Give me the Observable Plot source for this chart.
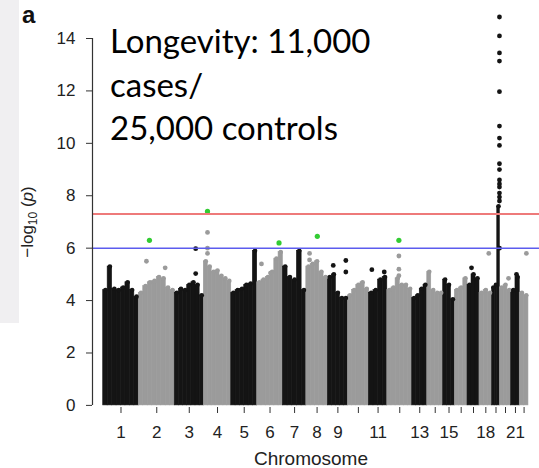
<!DOCTYPE html>
<html><head><meta charset="utf-8">
<script src="https://cdn.jsdelivr.net/npm/d3@7"></script>
<script src="https://cdn.jsdelivr.net/npm/@observablehq/plot@0.6"></script>
<style>
body{margin:0;background:#fff;}
#chart{position:relative;width:539px;height:468px;}
</style>
</head><body><div id="chart"></div>
<script>
// ---- data ----
const chromosomes = ["1","2","3","4","5","6","7","8","9","10","11","12","13","14","15","16","17","18","19","20","21","22"];
// span of each chromosome on the genome axis (Mb)
const chrSpanMb = [241,244,197,186,176,174,159,146,136,142,125,169,102,108,79,86,81,86,52,77,58,59];
// upper envelope of the dense SNP cloud, -log10(p), evenly spaced bins per chromosome
const envelopeLogP = [
  [4.4,5.3,4.45,4.4,4.5,4.7,4.4,4.15],
  [4.3,4.55,4.7,4.75,4.9,4.85,4.5,4.4],
  [4.3,4.45,4.4,4.6,4.7,4.6,4.2],
  [5.5,5.3,5.1,5.15,4.95,4.85,4.75],
  [4.3,4.4,4.45,4.6,4.65,5.9],
  [4.7,4.8,4.9,5.1,5.6,5.85],
  [5.3,4.9,4.8,5.9,4.4],
  [5.3,5.4,5.5,5.1,4.9],
  [4.9,5.0,4.3,4.1,4.1],
  [4.2,4.4,4.6,4.7,4.45],
  [4.3,4.4,4.8,4.9],
  [4.4,4.5,4.85,4.6,4.6,4.45],
  [4.1,4.2,4.45,4.6],
  [5.1,4.4,4.3,4.3],
  [4.8,4.6,4.05],
  [4.4,4.5,4.85],
  [4.6,5.0,4.85],
  [4.3,4.4,4.3],
  [4.5,4.6,7.6],
  [4.5,4.6,4.4],
  [4.4,4.9],
  [4.3,4.2]
];
// individual SNPs standing above the cloud
const snpChr   = ["2","2","3","3","4","4","4","6","6","8","8","9","9","9","11","11","12","12","12","17","18","20","21","22"];
const snpPosMb = [52,179,142,142,25,25,25,29,90,22,22,36.6,122,122,20.3,104.4,78.6,78.6,78.6,27,63,59,36,45];
const snpLogP  = [5.5,5.25,5.98,5.03,6.6,6.0,5.8,5.4,5.05,5.8,5.55,5.34,5.53,5.09,5.18,5.09,5.7,5.2,4.95,5.25,5.8,4.85,5.0,5.8];
// chromosome 19 peak
const peakChr = "19";
const peakPosMb = 49.5;
const peakLogP = [14.82,14.1,13.45,13.14,11.97,10.66,10.2,9.92,9.22,9.0,8.6,8.45,8.33,8.1,7.95,7.8,6.0];
// highlighted (green) hits
const hitChr   = ["2","4","6","8","12"];
const hitPosMb = [72.5,25,148,74.6,78.6];
const hitLogP  = [6.3,7.4,6.2,6.45,6.3];
// thresholds
const genomeWideLogP = 7.3;
const suggestiveLogP = 6;
// axis
const yTicks = [0,2,4,6,8,10,12,14];
const xTickLabels = ["1","2","3","4","5","6","7","8","9","","11","","13","","15","","","18","","","21",""];

// ---- derived ----
const offsets = Array.from(d3.cumsum([0, ...chrSpanMb.slice(0, -1)]));
const genomeLen = d3.sum(chrSpanMb);
const centers = chrSpanMb.map((s, i) => offsets[i] + s / 2);
const idx = c => chromosomes.indexOf(c);
const BLACK = "#141414", GRAY = "#9b9b9b", GREEN = "#33cc33";
const colorOf = i => (i % 2 === 0 ? BLACK : GRAY);

const envRows = [];
envelopeLogP.forEach((bins, i) => {
  const w = chrSpanMb[i] / bins.length;
  bins.forEach((h, j) => envRows.push({i, x1: offsets[i] + j * w, x2: offsets[i] + (j + 1) * w, h}));
});
const snpRows = snpChr.map((c, k) => ({i: idx(c), x: offsets[idx(c)] + snpPosMb[k], y: snpLogP[k]}));
const peakRows = peakLogP.map(v => ({i: idx(peakChr), x: offsets[idx(peakChr)] + peakPosMb, y: v}));
const hitRows = hitChr.map((c, k) => ({x: offsets[idx(c)] + hitPosMb[k], y: hitLogP[k]}));
const tickMap = new Map(centers.map((c, i) => [c, xTickLabels[i]]));

const xMin = -genomeLen * 0.0252, xMax = genomeLen * 1.026;

const svg = Plot.plot({
  width: 539, height: 468,
  marginLeft: 92, marginRight: 0, marginTop: 38, marginBottom: 61,
  style: {fontFamily: "Liberation Sans, Arial, sans-serif", fontSize: "17px", background: "transparent", color: "#222"},
  x: {domain: [xMin, xMax]},
  y: {domain: [-0.08, 14]},
  marks: [
    Plot.rectY(envRows, {x1: "x1", x2: "x2", y1: 0, y2: "h", fill: d => colorOf(d.i), stroke: d => colorOf(d.i), strokeWidth: 0.6}),
    Plot.dot(envRows, {x: d => (d.x1 + d.x2) / 2, y: "h", r: 2.3, fill: d => colorOf(d.i)}),
    Plot.dot(snpRows, {x: "x", y: "y", r: 2.4, fill: d => colorOf(d.i)}),
    Plot.dot(peakRows, {x: "x", y: "y", r: 2.4, fill: d => colorOf(d.i)}),
    Plot.dot(hitRows, {x: "x", y: "y", r: 2.6, fill: GREEN}),
    Plot.ruleY([genomeWideLogP], {stroke: "#ee7a7a", strokeWidth: 2}),
    Plot.ruleY([suggestiveLogP], {stroke: "#5c5cee", strokeWidth: 1.5}),
    Plot.ruleX([xMin], {y1: 0, y2: 14, stroke: "#333", strokeWidth: 1.2}),
    Plot.axisY({ticks: yTicks, tickSize: 6, tickPadding: 11, label: null, stroke: "#333"}),
    Plot.axisX({ticks: centers, tickFormat: d => tickMap.get(d), tickSize: 6, tickPadding: 12, label: null, stroke: "#333"})
  ]
});

const s = d3.select(svg);
s.insert("rect", ":first-child").attr("x", 0).attr("y", 0).attr("width", 19).attr("height", 323).attr("fill", "#f0eff1");
s.append("text").attr("x", 22).attr("y", 23).attr("text-anchor", "start").attr("font-family", "Liberation Sans, Arial, sans-serif")
  .attr("font-weight", "bold").attr("font-size", 24).attr("fill", "#111").text("a");
const lg = s.append("text").attr("text-anchor", "start").attr("font-family", "Lato, 'Open Sans', sans-serif").attr("font-size", 33).attr("fill", "#000");
[["Longevity: 11,000", 52.7], ["cases/", 96.7], ["25,000 controls", 140]].forEach(([t, y]) =>
  lg.append("tspan").attr("x", 110).attr("y", y).text(t));
const yl = s.append("text").attr("transform", "translate(33,222) rotate(-90)").attr("text-anchor", "middle")
  .attr("font-family", "Liberation Sans, Arial, sans-serif").attr("font-size", 17).attr("fill", "#222");
yl.append("tspan").text("\u2212log");
yl.append("tspan").attr("font-size", 12).attr("dy", 4).text("10");
yl.append("tspan").attr("dy", -4).text(" (");
yl.append("tspan").attr("font-style", "italic").text("p");
yl.append("tspan").text(")");
s.append("text").attr("x", 311).attr("y", 465).attr("text-anchor", "middle")
  .attr("font-family", "Liberation Sans, Arial, sans-serif").attr("font-size", 19).attr("fill", "#222").text("Chromosome");

document.getElementById("chart").appendChild(svg);
</script>
</body></html>
